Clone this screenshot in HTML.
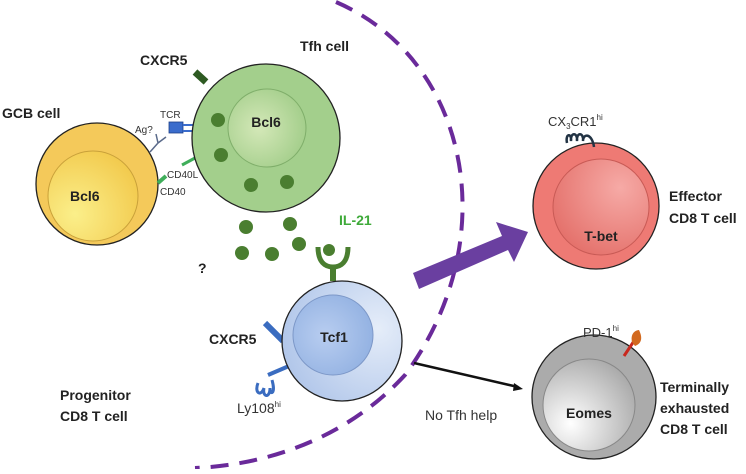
<!DOCTYPE html>
<html><head><meta charset="utf-8"><style>
html,body{margin:0;padding:0;background:#fff;}
svg text{font-family:"Liberation Sans",sans-serif;}
.b{font-weight:bold;fill:#222;font-size:14px;}
.s{fill:#333;font-size:10px;}
</style></head><body>
<svg width="746" height="469" viewBox="0 0 746 469" xmlns="http://www.w3.org/2000/svg">
<defs>
<radialGradient id="gy" cx="0.3" cy="0.7" r="0.8"><stop offset="0" stop-color="#fbef8a"/><stop offset="1" stop-color="#f2c94c"/></radialGradient>
<radialGradient id="gg" cx="0.4" cy="0.5" r="0.7"><stop offset="0" stop-color="#d4e8b8"/><stop offset="1" stop-color="#9cca84"/></radialGradient>
<radialGradient id="gb" cx="0.4" cy="0.5" r="0.7"><stop offset="0" stop-color="#b8cdf0"/><stop offset="1" stop-color="#8eaee0"/></radialGradient>
<radialGradient id="gbo" cx="0.8" cy="0.4" r="0.8"><stop offset="0" stop-color="#e5edf9"/><stop offset="1" stop-color="#b2c7ea"/></radialGradient>
<radialGradient id="gr" cx="0.7" cy="0.3" r="0.8"><stop offset="0" stop-color="#f6aaa6"/><stop offset="1" stop-color="#e4706a"/></radialGradient>
<radialGradient id="ggr" cx="0.3" cy="0.7" r="0.8"><stop offset="0" stop-color="#ffffff"/><stop offset="1" stop-color="#a8a8a8"/></radialGradient>
</defs>
<path d="M336,2 C470,60 505,240 405,375 C345,440 265,465 195,468" fill="none" stroke="#6a2a9a" stroke-width="4" stroke-dasharray="18,11"/>
<circle cx="97" cy="184" r="61" fill="#f4c95a" stroke="#222" stroke-width="1.3"/>
<circle cx="93" cy="196" r="45" fill="url(#gy)" stroke="#c9a13a" stroke-width="1"/>
<text x="70" y="201" class="b" font-size="15">Bcl6</text>
<text x="2" y="118" class="b" font-size="15">GCB cell</text>
<path d="M150,152 L158,143 M158,143 L156,134 M158,143 L166,137" stroke="#5a6a8a" stroke-width="1.5" fill="none"/>
<text x="135" y="133" class="s">Ag?</text>
<rect x="169" y="122" width="14" height="11" fill="#3a6ccc" stroke="#1e3f88" stroke-width="0.8"/>
<path d="M183,125 H193 M183,131 H193" stroke="#3a6ccc" stroke-width="2"/>
<text x="160" y="118" class="s">TCR</text>
<path d="M158,183 L166,176" stroke="#3fae5a" stroke-width="4"/>
<path d="M182,165 L195,158" stroke="#3fae5a" stroke-width="3"/>
<text x="167" y="178" class="s">CD40L</text>
<text x="160" y="195" class="s">CD40</text>
<path d="M195,72 L206,82" stroke="#2e5a22" stroke-width="7"/>
<circle cx="266" cy="138" r="74" fill="#a3cf8c" stroke="#222" stroke-width="1.3"/>
<circle cx="267" cy="128" r="39" fill="url(#gg)" stroke="#7fae6a" stroke-width="1"/>
<text x="266" y="127" class="b" text-anchor="middle" font-size="15">Bcl6</text>
<text x="140" y="65" class="b" font-size="15">CXCR5</text>
<text x="300" y="51" class="b" font-size="15">Tfh cell</text>
<g fill="#4a7e30">
<circle cx="218" cy="120" r="7"/><circle cx="221" cy="155" r="7"/><circle cx="251" cy="185" r="7"/><circle cx="287" cy="182" r="7"/>
<circle cx="246" cy="227" r="7"/><circle cx="290" cy="224" r="7"/><circle cx="242" cy="253" r="7"/><circle cx="272" cy="254" r="7"/><circle cx="299" cy="244" r="7"/>
<circle cx="329" cy="250" r="6"/>
</g>
<text x="339" y="225" font-size="14" font-weight="bold" fill="#3faa3a">IL-21</text>
<text x="198" y="273" class="b">?</text>
<path d="M318,247 C318,262 325,267 333,267 C341,267 348,262 348,247" fill="none" stroke="#4a7e30" stroke-width="5"/>
<path d="M333,266 V281" stroke="#4a7e30" stroke-width="6"/>
<path d="M265,323 L283,341" stroke="#3a6cc0" stroke-width="6"/>
<path d="M268,375 L289,366" stroke="#3a6cc0" stroke-width="4"/>
<path d="M258,383 C254,393 261,397 264,388 C262,397 270,399 270,388 C270,396 276,394 272,380" fill="none" stroke="#3a6cc0" stroke-width="3"/>
<circle cx="342" cy="341" r="60" fill="url(#gbo)" stroke="#222" stroke-width="1.3"/>
<circle cx="333" cy="335" r="40" fill="url(#gb)" stroke="#7d98c8" stroke-width="1"/>
<text x="334" y="342" class="b" text-anchor="middle" font-size="15">Tcf1</text>
<text x="209" y="344" class="b" font-size="15">CXCR5</text>
<text x="237" y="413" font-size="14" fill="#333">Ly108<tspan font-size="8" dy="-6">hi</tspan></text>
<text x="60" y="400" class="b" font-size="15">Progenitor</text>
<text x="60" y="421" class="b" font-size="15">CD8 T cell</text>
<polygon points="413,273 502,236 496,222 528,232 514,262 508,250 419,289" fill="#6a3fa0"/>
<line x1="414" y1="363" x2="518" y2="387" stroke="#111" stroke-width="2.5"/>
<polygon points="523,389 514,383 513,391" fill="#111"/>
<text x="425" y="420" font-size="14" fill="#333">No Tfh help</text>
<circle cx="596" cy="206" r="63" fill="#ee7a74" stroke="#222" stroke-width="1.3"/>
<circle cx="601" cy="207" r="48" fill="url(#gr)" stroke="#c85a55" stroke-width="1"/>
<text x="601" y="241" class="b" text-anchor="middle" font-size="15">T-bet</text>
<path d="M567,143 C565,133 572,133 571,141 C570,132 578,132 577,141 C576,132 584,132 583,141 C583,133 592,133 594,147" fill="none" stroke="#223344" stroke-width="2.5"/>
<text x="548" y="126" font-size="13" fill="#333">CX<tspan font-size="8" dy="3">3</tspan><tspan dy="-3">CR1</tspan><tspan font-size="8" dy="-6">hi</tspan></text>
<text x="669" y="201" class="b" font-size="15">Effector</text>
<text x="669" y="223" class="b" font-size="15">CD8 T cell</text>
<circle cx="594" cy="397" r="62" fill="#ababab" stroke="#222" stroke-width="1.3"/>
<circle cx="589" cy="405" r="46" fill="url(#ggr)" stroke="#888" stroke-width="1"/>
<text x="589" y="418" class="b" text-anchor="middle" font-size="15">Eomes</text>
<path d="M624,356 L634,341" stroke="#c8281e" stroke-width="3"/>
<path d="M632,342 C630,333 636,330 639,330 C642,336 643,343 635,346 Z" fill="#d2691e"/>
<text x="583" y="337" font-size="13" fill="#333">PD-1<tspan font-size="8" dy="-6">hi</tspan></text>
<text x="660" y="392" class="b" font-size="15">Terminally</text>
<text x="660" y="413" class="b" font-size="15">exhausted</text>
<text x="660" y="434" class="b" font-size="15">CD8 T cell</text>
</svg>
</body></html>
